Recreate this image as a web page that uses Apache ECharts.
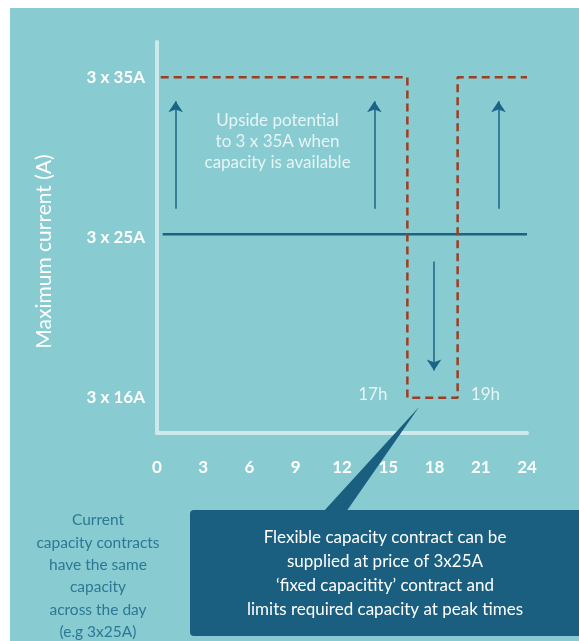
<!DOCTYPE html>
<html>
<head>
<meta charset="utf-8">
<script src="https://cdn.jsdelivr.net/npm/echarts@6/dist/echarts.min.js"></script>
<style>
  body { margin: 0; background: #ffffff; }
  #wrap { position: relative; width: 579px; height: 641px; }
  #bg { position: absolute; left: 10px; top: 8px; right: 0; bottom: 0; background: #88cbd0; }
  #main { position: absolute; left: 0; top: 0; width: 579px; height: 641px; }
</style>
</head>
<body>
<div id="wrap">
  <div id="bg"></div>
  <div id="main"></div>
</div>
<script>
// hours of the day on the x axis
var hourTicks = [0, 3, 6, 9, 12, 15, 18, 21, 24];
// capacity levels on the y axis (index = level)
var levelLabels = ['3 x 16A', '3 x 25A', '3 x 35A'];

// fixed contract: flat at 3 x 25A
var fixedLine = [[0.37, 1.02], [24, 1.02]];
// flexible contract: 3 x 35A except the evening peak, when it drops to 3 x 16A
var flexLine = [[0.24, 2], [16.24, 2], [16.24, 0], [19.5, 0], [19.5, 2], [24, 2]];

// arrows: [hour, from level, to level]
var upArrows = [[1.21, 1.18, 1.85], [14.1, 1.18, 1.85], [22.15, 1.18, 1.85]];
var downArrows = [[17.97, 0.85, 0.17]];

// text inside the plot: [hour, level, text]
var plotNotes = [
  [7.82, 1.6, 'Upside potential\nto 3 x 35A when\ncapacity is available'],
  [14.0, 0.02, '17h'],
  [21.3, 0.02, '19h']
];

var leftNote = 'Current\ncapacity contracts\nhave the same\ncapacity\nacross the day\n(e.g 3x25A)';
var boxNote = 'Flexible capacity contract can be\nsupplied at price of 3x25A\n\u2018fixed capacitity\u2019 contract and\nlimits required capacity at peak times';

var font = 'Lato, "Open Sans", sans-serif';
var darkBlue = '#1b6486';

var chart = echarts.init(document.getElementById('main'));

var arrowData = upArrows.concat(downArrows).map(function (a) {
  return { coords: [[a[0], a[1]], [a[0], a[2]]] };
});

var option = {
  backgroundColor: 'transparent',
  animation: false,
  textStyle: { fontFamily: font },
  grid: { left: 157, right: 52, top: 42, bottom: 208 },
  xAxis: {
    type: 'value',
    min: 0,
    max: 24,
    interval: 3,
    axisLine: { show: true, onZero: false, lineStyle: { color: '#cde9ec', width: 4 } },
    axisTick: { show: false },
    splitLine: { show: false },
    axisLabel: {
      margin: 26,
      color: '#ffffff',
      fontSize: 17,
      fontWeight: 'bold',
      fontFamily: font,
      formatter: function (v) { return hourTicks.indexOf(v) >= 0 ? String(v) : ''; }
    }
  },
  yAxis: {
    type: 'value',
    min: -0.22,
    max: 2.22,
    name: 'Maximum current (A)',
    nameLocation: 'middle',
    nameRotate: 90,
    nameGap: 102,
    nameTextStyle: { color: '#ffffff', fontSize: 21, fontFamily: font, padding: [0, 28, 0, 0] },
    axisLine: { show: true, onZero: false, lineStyle: { color: '#cde9ec', width: 4 } },
    axisTick: { show: false },
    splitLine: { show: false },
    axisLabel: {
      customValues: [0, 1, 2],
      margin: 12,
      color: '#ffffff',
      fontSize: 17,
      fontWeight: 'bold',
      fontFamily: font,
      formatter: function (v) { return levelLabels[Math.round(v)]; }
    }
  },
  series: [
    {
      type: 'line',
      data: fixedLine,
      symbol: 'none',
      lineStyle: { color: darkBlue, width: 2.5 },
      z: 3
    },
    {
      type: 'line',
      data: flexLine,
      symbol: 'none',
      lineStyle: { color: '#9e3d22', width: 2.5, type: [8, 5] },
      z: 4
    },
    {
      type: 'lines',
      coordinateSystem: 'cartesian2d',
      data: arrowData,
      symbol: ['none', 'arrow'],
      symbolSize: [8, 11],
      lineStyle: { color: darkBlue, width: 1.5, opacity: 1 },
      z: 3
    },
    {
      type: 'scatter',
      symbolSize: 0,
      data: plotNotes.map(function (n) { return { value: [n[0], n[1]], text: n[2] }; }),
      label: {
        show: true,
        position: 'inside',
        color: '#ffffff',
        fontSize: 17,
        lineHeight: 21,
        fontFamily: font,
        align: 'center',
        verticalAlign: 'middle',
        formatter: function (p) { return p.data.text; }
      },
      z: 5
    }
  ],
  graphic: [
    {
      type: 'text',
      z: 100,
      style: {
        text: leftNote,
        x: 98, y: 509,
        textAlign: 'center',
        fill: '#2b7896',
        font: '15.5px ' + font,
        lineHeight: 22.4
      }
    },
    {
      type: 'polygon',
      shape: { points: [[323, 512], [346, 512], [419, 407]] },
      style: { fill: '#1a5f80' },
      z: 100
    },
    {
      type: 'rect',
      shape: { x: 190, y: 510, width: 395, height: 126, r: 4 },
      style: { fill: '#1a5f80' },
      z: 100
    },
    {
      type: 'text',
      z: 101,
      style: {
        text: boxNote,
        x: 385, y: 526,
        textAlign: 'center',
        fill: '#ffffff',
        font: '17px ' + font,
        lineHeight: 24
      }
    }
  ]
};

chart.setOption(option);
</script>
</body>
</html>
